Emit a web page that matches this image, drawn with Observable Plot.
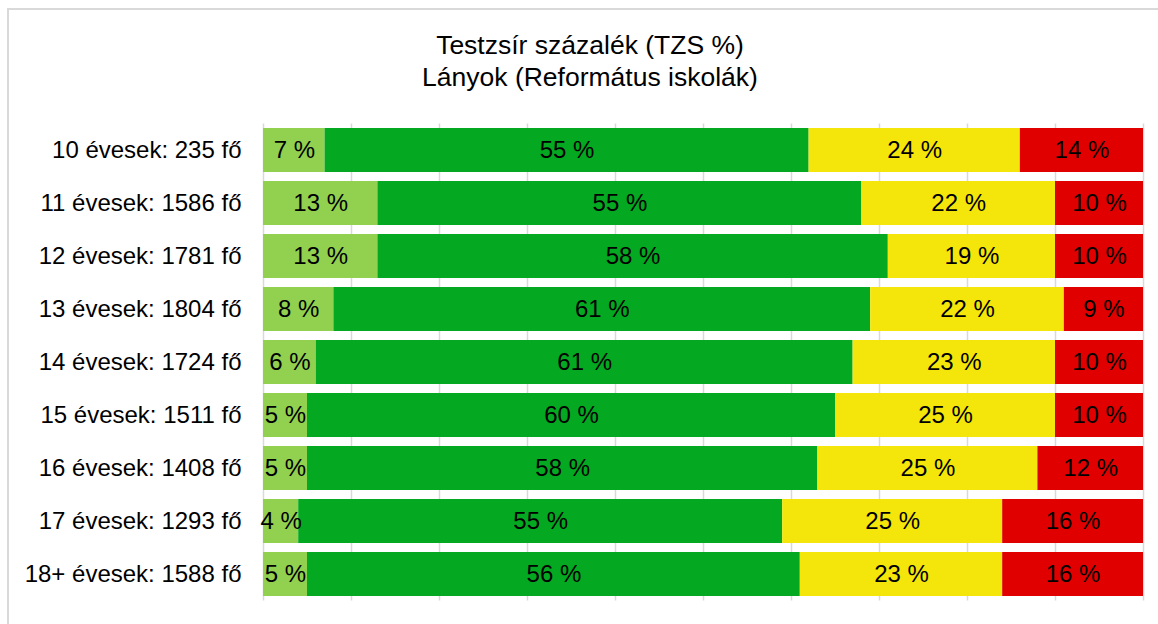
<!DOCTYPE html>
<html>
<head>
<meta charset="utf-8">
<script src="https://cdn.jsdelivr.net/npm/d3@7"></script>
<script src="https://cdn.jsdelivr.net/npm/@observablehq/plot@0.6"></script>
<style>
  html, body { margin: 0; padding: 0; background: #fff; overflow: hidden; }
  #wrap { position: relative; width: 1158px; height: 624px; font-family: 'Liberation Sans', Arial, sans-serif; }
  #frame { position: absolute; left: 7px; top: 8px; width: 1300px; height: 800px; border-left: 2px solid #d9d9d9; border-top: 2px solid #d9d9d9; box-sizing: border-box; }
  #title { position: relative; height: 110px; box-sizing: border-box; padding-top: 29px; width: 1180px; text-align: center; font-size: 26.5px; line-height: 32px; color: #000; }
  #chart { position: relative; }
  #chart svg { display: block; }
</style>
</head>
<body>
<div id="wrap">
  <div id="frame"></div>
  <div id="title">Testzsír százalék (TZS %)<br>Lányok (Református iskolák)</div>
  <div id="chart"></div>
</div>
<script>
const ages = ["10 évesek: 235 fő", "11 évesek: 1586 fő", "12 évesek: 1781 fő", "13 évesek: 1804 fő",
  "14 évesek: 1724 fő", "15 évesek: 1511 fő", "16 évesek: 1408 fő", "17 évesek: 1293 fő", "18+ évesek: 1588 fő"];
const categories = ["alacsony", "megfelelő", "emelkedett", "magas"];
const colors = ["#92D050", "#04A821", "#F4E60B", "#E00000"];
const lowValues = [7, 13, 13, 8, 6, 5, 5, 4, 5];
const okValues = [55, 55, 58, 61, 61, 60, 58, 55, 56];
const highValues = [24, 22, 19, 22, 23, 25, 25, 25, 23];
const veryHighValues = [14, 10, 10, 9, 10, 10, 12, 16, 16];
const xTicks = [0, 10, 20, 30, 40, 50, 60, 70, 80, 90, 100];

const series = [lowValues, okValues, highValues, veryHighValues];
const data = [];
ages.forEach((age, i) => {
  categories.forEach((cat, j) => {
    data.push({age, cat, value: series[j][i]});
  });
});

const chart = Plot.plot({
  width: 1158,
  height: 514,
  marginTop: 13.5,
  marginBottom: 23.5,
  marginLeft: 263,
  marginRight: 15,
  style: {fontFamily: "'Liberation Sans', Arial, sans-serif", fontSize: "24px", color: "#000", background: "transparent"},
  x: {domain: [0, 100], axis: null},
  y: {domain: ages, paddingInner: 0.17, paddingOuter: 0.085, label: null},
  color: {domain: categories, range: colors},
  marks: [
    Plot.gridX(xTicks, {stroke: "#d9d9d9", strokeOpacity: 1, strokeWidth: 1.5}),
    Plot.axisY({tickSize: 0, tickPadding: 22, fontSize: 24, label: null, fill: "#000"}),
    Plot.barX(data, Plot.stackX({x: "value", y: "age", fill: "cat", order: null})),
    Plot.text(data, Plot.stackX({x: "value", y: "age", text: d => d.value + " %", fill: "#000", fontSize: 24, order: null}))
  ]
});
document.getElementById("chart").appendChild(chart);
</script>
</body>
</html>
